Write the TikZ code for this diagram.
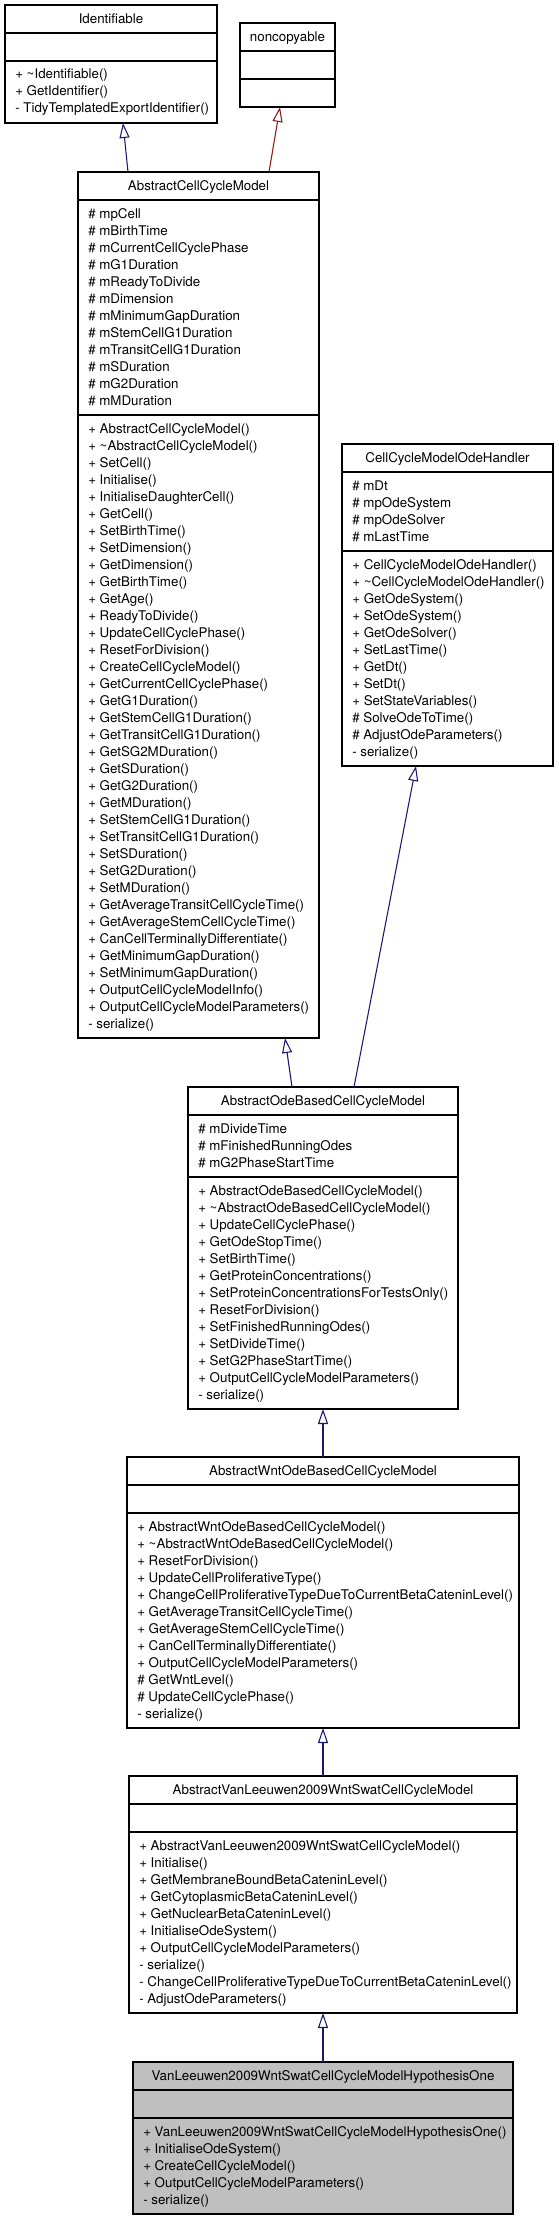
\documentclass[tikz,border=0pt]{standalone}
\usepackage{fontspec}
\setmainfont{TeX Gyre Heros}
\usetikzlibrary{arrows.meta,calc}
\definecolor{edgeblue}{RGB}{25,25,112}
\definecolor{edgered}{RGB}{139,26,26}
\definecolor{classgray}{RGB}{191,191,191}
\newcommand\boxfill{white}
\newcommand\umlbox[9]{%
  \pgfmathsetmacro\umlHa{#6==0 ? 28 : #6*17+11}%
  \pgfmathsetmacro\umlHm{#8==0 ? 28 : #8*17+11}%
  \pgfmathsetmacro\umlYa{#3+28}%
  \pgfmathsetmacro\umlYm{#3+28+\umlHa}%
  \pgfmathsetmacro\umlYb{\umlYm+\umlHm}%
  \pgfmathsetmacro\umlW{(#4-(#2))*0.75}%
  \pgfmathsetmacro\umlH{(\umlYb-(#3))*0.75}%
  \pgfmathsetmacro\umlCx{(#2+#4)/2}%
  \node[umlframe, fill=\boxfill, minimum width=\umlW pt, minimum height=\umlH pt, anchor=north west] (#1) at (#2,#3) {};
  \draw[sepline] (#2,\umlYa) -- (#4,\umlYa);
  \draw[sepline] (#2,\umlYm) -- (#4,\umlYm);
  \node[ttl] (#1-t) at (\umlCx,#3+18.5) {#5};
  \ifnum#6>0
    \foreach \s [count=\i from 0] in {#7} \node[mem] (#1-a\i) at (#2+10,\umlYa+18+17*\i) {\s};
  \fi
  \ifnum#8>0
    \foreach \s [count=\i from 0] in {#9} \node[mem] (#1-m\i) at (#2+10,\umlYm+18+17*\i) {\s};
  \fi
}
\begin{document}
\begin{tikzpicture}[x=0.75pt,y=-0.75pt,
  umlframe/.style={rectangle,draw=black,line width=0.8pt,inner sep=0pt,outer sep=0pt},
  sepline/.style={draw=black,line width=0.8pt},
  ttl/.style={anchor=base,inner sep=0pt,font=\fontsize{10}{12}\selectfont},
  mem/.style={anchor=base west,inner sep=0pt,font=\fontsize{10}{12}\selectfont},
  inhpub/.style={draw=edgeblue,line width=0.8pt,-{Triangle[open,length=11.25pt,width=7.5pt]}},
  inhpriv/.style={draw=edgered,line width=0.8pt,-{Triangle[open,length=11.25pt,width=7.5pt]}}]
\useasboundingbox (0,0) rectangle (559,2219);
\fill[white] (0,0) rectangle (559,2219);

\umlbox{idf}{5}{5}{217}{Identifiable}{0}{}{3}{%
  {+ \textasciitilde Identifiable()},{+ GetIdentifier()},{- TidyTemplatedExportIdentifier()}}

\umlbox{nc}{240}{23}{335}{noncopyable}{0}{}{0}{}

\umlbox{acm}{78}{172}{319}{AbstractCellCycleModel}{12}{%
  {\# mpCell},{\# mBirthTime},{\# mCurrentCellCyclePhase},{\# mG1Duration},{\# mReadyToDivide},
  {\# mDimension},{\# mMinimumGapDuration},{\# mStemCellG1Duration},{\# mTransitCellG1Duration},
  {\# mSDuration},{\# mG2Duration},{\# mMDuration}}{36}{%
  {+ AbstractCellCycleModel()},{+ \textasciitilde AbstractCellCycleModel()},{+ SetCell()},{+ Initialise()},
  {+ InitialiseDaughterCell()},{+ GetCell()},{+ SetBirthTime()},{+ SetDimension()},{+ GetDimension()},
  {+ GetBirthTime()},{+ GetAge()},{+ ReadyToDivide()},{+ UpdateCellCyclePhase()},{+ ResetForDivision()},
  {+ CreateCellCycleModel()},{+ GetCurrentCellCyclePhase()},{+ GetG1Duration()},{+ GetStemCellG1Duration()},
  {+ GetTransitCellG1Duration()},{+ GetSG2MDuration()},{+ GetSDuration()},{+ GetG2Duration()},
  {+ GetMDuration()},{+ SetStemCellG1Duration()},{+ SetTransitCellG1Duration()},{+ SetSDuration()},
  {+ SetG2Duration()},{+ SetMDuration()},{+ GetAverageTransitCellCycleTime()},{+ GetAverageStemCellCycleTime()},
  {+ CanCellTerminallyDifferentiate()},{+ GetMinimumGapDuration()},{+ SetMinimumGapDuration()},
  {+ OutputCellCycleModelInfo()},{+ OutputCellCycleModelParameters()},{- serialize()}}

\umlbox{hdl}{342}{444}{553}{CellCycleModelOdeHandler}{4}{%
  {\# mDt},{\# mpOdeSystem},{\# mpOdeSolver},{\# mLastTime}}{12}{%
  {+ CellCycleModelOdeHandler()},{+ \textasciitilde CellCycleModelOdeHandler()},{+ GetOdeSystem()},
  {+ SetOdeSystem()},{+ GetOdeSolver()},{+ SetLastTime()},{+ GetDt()},{+ SetDt()},{+ SetStateVariables()},
  {\# SolveOdeToTime()},{\# AdjustOdeParameters()},{- serialize()}}

\umlbox{aob}{188}{1087}{458}{AbstractOdeBasedCellCycleModel}{3}{%
  {\# mDivideTime},{\# mFinishedRunningOdes},{\# mG2PhaseStartTime}}{13}{%
  {+ AbstractOdeBasedCellCycleModel()},{+ \textasciitilde AbstractOdeBasedCellCycleModel()},
  {+ UpdateCellCyclePhase()},{+ GetOdeStopTime()},{+ SetBirthTime()},{+ GetProteinConcentrations()},
  {+ SetProteinConcentrationsForTestsOnly()},{+ ResetForDivision()},{+ SetFinishedRunningOdes()},
  {+ SetDivideTime()},{+ SetG2PhaseStartTime()},{+ OutputCellCycleModelParameters()},{- serialize()}}

\umlbox{wnt}{127}{1457}{519}{AbstractWntOdeBasedCellCycleModel}{0}{}{12}{%
  {+ AbstractWntOdeBasedCellCycleModel()},{+ \textasciitilde AbstractWntOdeBasedCellCycleModel()},
  {+ ResetForDivision()},{+ UpdateCellProliferativeType()},
  {+ ChangeCellProliferativeTypeDueToCurrentBetaCateninLevel()},{+ GetAverageTransitCellCycleTime()},
  {+ GetAverageStemCellCycleTime()},{+ CanCellTerminallyDifferentiate()},{+ OutputCellCycleModelParameters()},
  {\# GetWntLevel()},{\# UpdateCellCyclePhase()},{- serialize()}}

\umlbox{avl}{129}{1776}{517}{AbstractVanLeeuwen2009WntSwatCellCycleModel}{0}{}{10}{%
  {+ AbstractVanLeeuwen2009WntSwatCellCycleModel()},{+ Initialise()},{+ GetMembraneBoundBetaCateninLevel()},
  {+ GetCytoplasmicBetaCateninLevel()},{+ GetNuclearBetaCateninLevel()},{+ InitialiseOdeSystem()},
  {+ OutputCellCycleModelParameters()},{- serialize()},
  {- ChangeCellProliferativeTypeDueToCurrentBetaCateninLevel()},{- AdjustOdeParameters()}}

\renewcommand\boxfill{classgray}
\umlbox{hyp}{133}{2062}{513}{VanLeeuwen2009WntSwatCellCycleModelHypothesisOne}{0}{}{5}{%
  {+ VanLeeuwen2009WntSwatCellCycleModelHypothesisOne()},{+ InitialiseOdeSystem()},
  {+ CreateCellCycleModel()},{+ OutputCellCycleModelParameters()},{- serialize()}}

\draw[inhpub] ($(acm.north west)+(50,0)$) -- ($(idf.south west)+(118,0)$);
\draw[inhpriv] ($(acm.north west)+(191,0)$) -- ($(nc.south west)+(40,0)$);
\draw[inhpub] ($(aob.north west)+(104,0)$) -- ($(acm.south west)+(207,0)$);
\draw[inhpub] ($(aob.north west)+(166,0)$) -- ($(hdl.south west)+(74,0)$);
\draw[inhpub] (wnt.north) -- (aob.south);
\draw[inhpub] (avl.north) -- (wnt.south);
\draw[inhpub] (hyp.north) -- (avl.south);
\end{tikzpicture}
\end{document}
